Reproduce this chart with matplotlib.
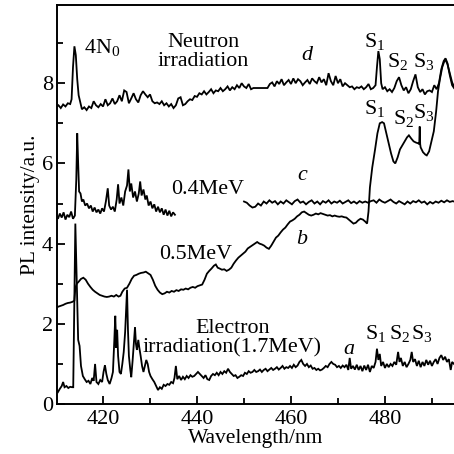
import numpy as np
import matplotlib
matplotlib.use("Agg")
import matplotlib.pyplot as plt
from matplotlib.ticker import MultipleLocator

plt.rcParams['font.family'] = ['Liberation Serif', 'DejaVu Serif']
plt.rcParams['mathtext.fontset'] = 'custom'
plt.rcParams['mathtext.rm'] = 'Liberation Serif'
plt.rcParams['mathtext.it'] = 'Liberation Serif:italic'

# curve d : neutron irradiation
d_x = [410.0, 410.5, 411.0, 411.5, 412.0, 412.5, 413.0, 413.3, 413.6, 413.9, 414.2, 414.5, 414.8, 415.1, 415.5,
       416.0, 416.5, 417.0, 417.5, 418.0, 418.5, 419.0, 419.5, 420.0, 420.5, 421.0, 421.5, 422.0, 422.5, 423.0,
       423.5, 424.0, 424.5, 425.0, 425.5, 426.0, 426.5, 427.0, 427.5, 428.0, 428.5, 429.0, 429.5, 430.0, 430.5,
       431.0, 431.5, 432.0, 432.5, 433.0, 433.5, 434.0, 434.5, 435.0, 435.5, 436.0, 436.5, 437.0, 437.5, 438.0,
       438.5, 439.0, 439.5, 440.0, 440.5, 441.0, 441.5, 442.0, 442.5, 443.0, 443.5, 444.0, 444.5, 445.0, 445.5,
       446.0, 446.5, 447.0, 447.5, 448.0, 448.5, 449.0, 449.5, 450.0, 450.5, 451.0, 451.5, 452.0, 453.0, 454.0,
       455.0, 455.5, 456.0, 456.5, 457.0, 457.5, 458.0, 458.5, 459.0, 459.5, 460.0, 460.5, 461.0, 461.5, 462.0,
       462.5, 463.0, 463.5, 464.0, 464.5, 465.0, 465.5, 466.0, 466.5, 467.0, 467.5, 468.0, 468.5, 469.0, 469.5,
       470.0, 470.5, 471.0, 471.5, 472.0, 472.5, 473.0, 473.5, 474.0, 474.5, 475.0, 475.5, 476.0, 476.5, 477.0,
       477.5, 478.0, 478.3, 478.6, 478.9, 479.2, 479.5, 480.0, 480.5, 481.0, 481.5, 482.0, 482.5, 483.0, 483.5,
       484.0, 484.5, 485.0, 485.5, 486.0, 486.5, 487.0, 487.5, 488.0, 488.5, 489.0, 489.5, 490.0, 490.5, 491.0,
       491.5, 492.0, 492.5, 492.9, 493.3, 493.8, 494.3, 494.7]
d_y = [7.40, 7.45, 7.38, 7.47, 7.42, 7.50, 7.48, 7.60, 8.40, 8.92, 8.70, 8.10, 7.70, 7.55, 7.35,
       7.40, 7.33, 7.42, 7.38, 7.55, 7.45, 7.40, 7.48, 7.42, 7.60, 7.45, 7.50, 7.62, 7.48, 7.55,
       7.70, 7.55, 7.82, 7.78, 7.50, 7.62, 7.75, 7.60, 7.52, 7.70, 7.80, 7.72, 7.65, 7.72, 7.55,
       7.50, 7.52, 7.48, 7.55, 7.45, 7.50, 7.42, 7.48, 7.38, 7.45, 7.62, 7.65, 7.45, 7.48, 7.55,
       7.60, 7.58, 7.68, 7.66, 7.75, 7.72, 7.80, 7.72, 7.78, 7.85, 7.75, 7.82, 7.80, 7.88, 7.80,
       7.85, 7.92, 7.82, 7.90, 7.85, 7.95, 7.88, 8.00, 7.92, 7.88, 7.98, 7.85, 7.88, 7.88, 7.88,
       7.88, 7.98, 8.02, 7.92, 8.05, 7.98, 8.10, 7.95, 8.02, 8.08, 7.98, 8.12, 8.00, 8.10, 8.05,
       7.95, 8.02, 8.08, 7.98, 8.12, 8.05, 8.00, 8.15, 8.02, 8.10, 7.95, 8.25, 8.05, 7.95, 8.18,
       8.00, 8.10, 7.92, 8.00, 7.95, 7.90, 7.92, 7.85, 7.90, 7.88, 7.92, 7.85, 7.90, 7.98, 7.85,
       7.88, 7.95, 8.40, 8.80, 8.60, 8.00, 7.85, 7.90, 7.80, 7.85, 7.78, 7.88, 8.05, 8.15, 7.95,
       7.82, 7.90, 7.75, 7.85, 8.05, 8.22, 7.90, 7.78, 7.85, 7.72, 7.80, 7.82, 7.78, 7.95, 7.85,
       8.00, 8.35, 8.55, 8.62, 8.50, 8.20, 7.95, 7.88]

# curve c : 0.4 MeV electrons, two recorded pieces
c1_x = [410.0, 410.4, 410.8, 411.2, 411.6, 412.0, 412.4, 412.8, 413.2, 413.6, 414.0, 414.3, 414.5, 414.7, 414.9,
        415.2, 415.5, 415.8, 416.2, 416.6, 417.0, 417.4, 417.8, 418.2, 418.6, 419.0, 419.4, 419.8, 420.2, 420.6,
        421.0, 421.3, 421.7, 422.1, 422.5, 422.9, 423.2, 423.5, 423.9, 424.3, 424.7, 425.1, 425.4, 425.7, 426.0,
        426.4, 426.8, 427.2, 427.6, 427.9, 428.2, 428.6, 429.0, 429.3, 429.7, 430.1, 430.5, 430.9, 431.3, 431.7,
        432.1, 432.5, 432.9, 433.3, 433.7, 434.1, 434.5, 434.9, 435.3]
c1_y = [4.70, 4.62, 4.75, 4.65, 4.78, 4.60, 4.72, 4.66, 4.80, 4.62, 4.70, 5.60, 6.75, 6.00, 5.30,
        5.25, 5.05, 5.10, 4.95, 5.00, 4.88, 4.95, 4.80, 4.90, 4.78, 4.85, 4.75, 4.88, 4.80, 5.05,
        5.38, 4.95, 4.85, 4.92, 4.80, 5.10, 5.48, 5.00, 5.15, 4.95, 5.30, 5.45, 5.85, 5.30, 5.50,
        5.15, 5.30, 5.05, 5.25, 5.55, 5.20, 5.35, 5.10, 5.20, 4.95, 5.05, 4.88, 4.98, 4.80, 4.92,
        4.78, 4.88, 4.72, 4.85, 4.70, 4.82, 4.68, 4.78, 4.72]
c2_x = [450.0, 450.6, 451.2, 451.8, 452.4, 453.0, 453.6, 454.2, 454.8, 455.4, 456.0, 456.6, 457.2, 457.8, 458.4,
        459.0, 459.6, 460.2, 460.8, 461.4, 462.0, 462.6, 463.2, 463.8, 464.4, 465.0, 465.6, 466.2, 466.8, 467.4,
        468.0, 468.6, 469.2, 469.8, 470.4, 471.0, 471.6, 472.2, 472.8, 473.4, 474.0, 474.6, 475.2, 475.8, 476.4,
        477.0, 477.6, 478.2, 478.8, 479.4, 480.0, 480.6, 481.2, 481.8, 482.4, 483.0, 483.6, 484.2, 484.8, 485.4,
        486.0, 486.6, 487.2, 487.8, 488.4, 489.0, 489.6, 490.2, 490.8, 491.4, 492.0, 492.6, 493.2, 493.8, 494.4,
        494.7]
c2_y = [5.05, 5.02, 4.95, 4.90, 4.92, 5.00, 4.95, 5.05, 5.00, 5.08, 5.02, 5.06, 4.98, 5.05, 5.00,
        5.08, 5.03, 4.98, 5.06, 5.10, 5.02, 5.05, 4.98, 5.04, 5.08, 5.00, 5.05, 4.98, 5.06, 5.02,
        5.08, 5.00, 5.05, 5.02, 5.07, 5.00, 5.04, 5.08, 5.01, 5.05, 5.00, 5.06, 5.02, 5.05, 5.02,
        5.06, 5.08, 5.02, 5.10, 5.05, 5.02, 5.06, 5.10, 5.04, 5.00, 5.06, 5.02, 4.98, 5.05, 5.00,
        5.06, 5.03, 5.08, 5.02, 5.05, 4.98, 5.04, 5.00, 5.05, 5.02, 5.07, 5.03, 5.08, 5.04, 5.06,
        5.05]

# curve b : 0.5 MeV electrons
b_x = [410.0, 410.5, 411.0, 411.5, 412.0, 412.5, 413.0, 413.5, 413.9, 414.1, 414.4, 414.8, 415.3, 415.8, 416.3,
       416.8, 417.3, 417.8, 418.3, 418.8, 419.3, 419.8, 420.3, 420.8, 421.3, 421.8, 422.3, 422.8, 423.3, 423.7,
       424.1, 424.6, 425.1, 425.6, 426.1, 426.6, 427.1, 427.6, 428.1, 428.6, 429.1, 429.6, 430.1, 430.6, 431.1,
       431.6, 432.1, 432.6, 433.1, 433.6, 434.1, 434.6, 435.1, 435.6, 436.1, 436.6, 437.1, 437.6, 438.1, 438.6,
       439.1, 439.6, 440.1, 440.6, 441.1, 441.6, 442.1, 442.6, 443.1, 443.6, 444.0, 444.4, 444.8, 445.3, 445.8,
       446.3, 446.8, 447.3, 447.8, 448.3, 448.8, 449.3, 449.8, 450.3, 450.8, 451.3, 451.8, 452.3, 452.8, 453.3,
       453.8, 454.3, 454.8, 455.3, 455.8, 456.3, 456.8, 457.3, 457.8, 458.3, 458.8, 459.3, 459.8, 460.3, 460.8,
       461.3, 461.8, 462.3, 462.8, 463.3, 463.8, 464.3, 464.8, 465.3, 465.8, 466.3, 466.8, 467.3, 467.8, 468.3,
       468.8, 469.3, 469.8, 470.3, 470.8, 471.3, 471.8, 472.3, 472.8, 473.3, 473.8, 474.3, 474.8, 475.3, 475.8,
       476.2, 476.5, 476.8, 477.3, 477.9, 478.4, 478.9, 479.4, 479.8, 480.3, 480.8, 481.3, 481.8, 482.2, 482.7,
       483.2, 483.7, 484.2, 484.7, 485.1, 485.6, 486.1, 486.6, 487.1, 487.3, 487.4, 487.5, 487.6, 488.1, 488.6,
       488.9, 489.4, 489.9, 490.4, 490.9, 491.3, 491.7, 492.2, 492.8, 493.3, 493.8, 494.3, 494.7]
b_y = [2.40, 2.43, 2.45, 2.47, 2.50, 2.52, 2.53, 2.55, 2.58, 2.90, 3.00, 3.05, 3.12, 3.15, 3.10,
       3.00, 2.92, 2.85, 2.80, 2.76, 2.72, 2.70, 2.68, 2.67, 2.68, 2.70, 2.68, 2.72, 2.68, 2.70,
       2.80, 2.88, 2.90, 3.00, 3.12, 3.20, 3.22, 3.25, 3.27, 3.28, 3.30, 3.26, 3.22, 3.10, 2.95,
       2.85, 2.78, 2.74, 2.76, 2.80, 2.78, 2.82, 2.80, 2.84, 2.82, 2.86, 2.85, 2.88, 2.86, 2.90,
       2.92, 2.90, 2.94, 2.96, 2.98, 3.10, 3.25, 3.32, 3.38, 3.45, 3.48, 3.40, 3.38, 3.35, 3.36,
       3.32, 3.35, 3.40, 3.50, 3.58, 3.65, 3.70, 3.75, 3.80, 3.88, 3.92, 3.96, 4.00, 4.04, 4.00,
       3.98, 3.95, 3.90, 3.87, 3.95, 4.05, 4.15, 4.20, 4.28, 4.35, 4.40, 4.48, 4.55, 4.58, 4.62,
       4.68, 4.72, 4.78, 4.80, 4.76, 4.72, 4.70, 4.72, 4.75, 4.73, 4.76, 4.74, 4.72, 4.70, 4.71,
       4.68, 4.70, 4.68, 4.67, 4.68, 4.66, 4.65, 4.60, 4.55, 4.50, 4.52, 4.58, 4.62, 4.60, 4.55,
       4.50, 4.80, 5.40, 5.90, 6.35, 6.75, 7.00, 7.03, 7.00, 6.75, 6.50, 6.25, 6.05, 6.00, 6.15,
       6.35, 6.45, 6.55, 6.65, 6.70, 6.62, 6.55, 6.52, 6.50, 6.48, 6.92, 6.48, 6.40, 6.28, 6.22,
       6.20, 6.30, 6.55, 6.80, 7.30, 7.80, 8.10, 8.40, 8.60, 8.48, 8.25, 8.02, 7.92]

# curve a : 1.7 MeV electrons
a_x = [410.0, 410.4, 410.8, 411.2, 411.5, 411.8, 412.2, 412.6, 413.0, 413.4, 413.65, 413.9, 414.1, 414.4, 414.7,
       415.0, 415.3, 415.7, 416.1, 416.5, 416.9, 417.3, 417.7, 418.0, 418.3, 418.6, 419.0, 419.4, 419.8, 420.1,
       420.4, 420.7, 421.0, 421.4, 421.8, 422.1, 422.4, 422.6, 422.8, 423.0, 423.2, 423.5, 423.8, 424.1, 424.4,
       424.7, 424.9, 425.1, 425.3, 425.5, 425.8, 426.0, 426.3, 426.6, 426.8, 427.0, 427.2, 427.5, 427.7, 428.0,
       428.3, 428.6, 428.9, 429.2, 429.5, 429.8, 430.1, 430.5, 430.9, 431.3, 431.7, 432.1, 432.5, 432.9, 433.3,
       433.7, 434.1, 434.5, 434.9, 435.2, 435.5, 435.8, 436.2, 436.6, 437.0, 437.4, 437.8, 438.2, 438.6, 439.0,
       439.4, 439.8, 440.2, 440.6, 441.0, 441.4, 441.8, 442.2, 442.6, 443.0, 443.4, 443.8, 444.2, 444.6, 445.0,
       445.4, 445.8, 446.2, 446.6, 447.0, 447.4, 447.8, 448.2, 448.6, 449.0, 449.4, 449.8, 450.2, 450.6, 451.0,
       451.4, 451.8, 452.2, 452.6, 453.0, 453.4, 453.8, 454.2, 454.6, 455.0, 455.4, 455.8, 456.2, 456.6, 457.0,
       457.4, 457.8, 458.2, 458.6, 459.0, 459.4, 459.8, 460.2, 460.6, 461.0, 461.4, 461.8, 462.2, 462.6, 463.0,
       463.4, 463.8, 464.2, 464.6, 465.0, 465.4, 465.8, 466.2, 466.6, 467.0, 467.4, 467.8, 468.2, 468.6, 469.0,
       469.4, 469.8, 470.2, 470.6, 471.0, 471.4, 471.8, 472.2, 472.5, 472.8, 473.2, 473.6, 474.0, 474.4, 474.8,
       475.2, 475.6, 476.0, 476.4, 476.8, 477.2, 477.6, 478.0, 478.3, 478.6, 478.9, 479.2, 479.6, 480.0, 480.4,
       480.8, 481.2, 481.6, 482.0, 482.4, 482.8, 483.1, 483.4, 483.8, 484.2, 484.6, 485.0, 485.4, 485.7, 486.0,
       486.4, 486.8, 487.2, 487.6, 488.0, 488.4, 488.8, 489.2, 489.6, 490.0, 490.4, 490.8, 491.2, 491.6, 492.0,
       492.4, 492.8, 493.2, 493.6, 494.0, 494.3, 494.7]
a_y = [0.35, 0.30, 0.38, 0.45, 0.55, 0.42, 0.45, 0.40, 0.43, 0.42, 0.42, 2.80, 4.50, 3.00, 1.60,
       1.45, 0.95, 0.70, 0.62, 0.55, 0.58, 0.50, 0.65, 0.58, 1.00, 0.55, 0.50, 0.60, 0.55, 0.80,
       0.97, 0.75, 0.60, 0.50, 0.65, 0.80, 1.60, 2.20, 1.40, 1.85, 1.20, 0.80, 0.75, 1.00, 1.30,
       1.80, 2.30, 2.85, 1.85, 1.20, 0.85, 0.67, 1.10, 1.60, 1.92, 1.50, 1.35, 1.60, 1.42, 1.20,
       0.95, 0.80, 0.95, 1.10, 1.00, 0.80, 0.70, 0.62, 0.55, 0.45, 0.35, 0.42, 0.38, 0.48, 0.45,
       0.50, 0.48, 0.55, 0.52, 0.65, 0.95, 0.62, 0.70, 0.60, 0.68, 0.62, 0.70, 0.65, 0.72, 0.68,
       0.70, 0.75, 0.80, 0.75, 0.70, 0.65, 0.72, 0.62, 0.60, 0.70, 0.75, 0.72, 0.78, 0.72, 0.80,
       0.75, 0.82, 0.78, 0.88, 0.80, 0.75, 0.70, 0.72, 0.65, 0.68, 0.72, 0.70, 0.78, 0.75, 0.82,
       0.78, 0.80, 0.85, 0.80, 0.82, 0.86, 0.80, 0.85, 0.88, 0.82, 0.86, 0.90, 0.85, 0.88, 0.92,
       0.86, 0.90, 0.95, 0.88, 0.92, 0.90, 0.95, 0.90, 0.98, 0.92, 0.96, 1.05, 1.10, 1.00, 0.95,
       1.00, 0.92, 0.96, 0.88, 0.90, 0.85, 0.88, 0.84, 0.86, 0.90, 0.95, 0.92, 1.00, 1.05, 1.00,
       0.98, 0.92, 0.95, 0.90, 0.96, 0.92, 0.98, 0.85, 1.15, 0.88, 0.95, 0.86, 0.98, 0.85, 0.95,
       0.82, 0.96, 0.85, 0.98, 0.80, 0.95, 0.90, 1.05, 1.38, 1.10, 1.25, 0.95, 1.05, 0.90, 1.00,
       0.92, 1.00, 0.95, 1.05, 0.98, 1.30, 1.05, 1.15, 0.95, 1.05, 0.92, 1.00, 1.10, 1.30, 1.05,
       1.12, 0.95, 1.08, 0.92, 1.05, 0.95, 1.10, 0.98, 1.08, 0.95, 1.05, 1.12, 1.00, 1.15, 1.22,
       1.10, 1.18, 1.05, 1.12, 0.85, 1.05, 1.00]

fig = plt.figure(figsize=(4.54, 4.54), dpi=100)
ax = fig.add_axes([0.1256, 0.110, 0.8744, 0.879])

lw = 1.3
for xs, ys in [(d_x, d_y), (c1_x, c1_y), (c2_x, c2_y), (b_x, b_y), (a_x, a_y)]:
    ax.plot(xs, ys, color='black', lw=lw, solid_joinstyle='miter')

ax.set_xlim(410.2, 494.7)
ax.set_ylim(0, 9.95)
ax.xaxis.set_major_locator(MultipleLocator(20))
ax.xaxis.set_minor_locator(MultipleLocator(10))
ax.yaxis.set_major_locator(MultipleLocator(2))
ax.yaxis.set_minor_locator(MultipleLocator(1))
ax.tick_params(which='both', direction='in', width=1.3, labelsize=16, pad=3)
ax.tick_params(which='major', length=6)
ax.tick_params(which='minor', length=4)
ax.tick_params(axis='x', pad=4)
for s in ['left', 'bottom', 'top']:
    ax.spines[s].set_linewidth(1.4)
ax.spines['right'].set_visible(False)

ax.set_xlabel('Wavelength/nm', fontsize=15.5, labelpad=0)
ax.set_ylabel('PL intensity/a.u.', fontsize=15.5, labelpad=1)

fs = 15.8
ax.text(416.0, 8.9, '4N$_0$', fontsize=fs, ha='left', va='center')
ax.text(441.3, 8.78, 'Neutron\nirradiation', fontsize=fs, ha='center', va='center', linespacing=1.0)
ax.text(463.4, 8.7, 'd', fontsize=fs, style='italic', ha='center', va='center')
ax.text(442.3, 5.34, '0.4MeV', fontsize=fs, ha='center', va='center')
ax.text(462.3, 5.7, 'c', fontsize=fs, style='italic', ha='center', va='center')
ax.text(439.8, 3.72, '0.5MeV', fontsize=fs, ha='center', va='center')
ax.text(462.3, 4.1, 'b', fontsize=fs, style='italic', ha='center', va='center')
ax.text(447.5, 1.64, 'Electron\nirradiation(1.7MeV)', fontsize=fs, ha='center', va='center', linespacing=1.05)
ax.text(472.3, 1.35, 'a', fontsize=fs, style='italic', ha='center', va='center')

s_labels = ['S$_1$', 'S$_2$', 'S$_3$']
d_sx = [475.5, 480.4, 486.0]
d_sy = [9.03, 8.53, 8.53]
b_sx = [475.5, 481.7, 486.0]
b_sy = [7.38, 7.13, 7.26]
a_sx = [475.8, 480.9, 485.5]
a_sy = [1.75, 1.75, 1.75]
for sx, sy in [(d_sx, d_sy), (b_sx, b_sy), (a_sx, a_sy)]:
    for lab, x, y in zip(s_labels, sx, sy):
        ax.text(x, y, lab, fontsize=fs, ha='left', va='center')

fig.savefig('out.png', dpi=100)
